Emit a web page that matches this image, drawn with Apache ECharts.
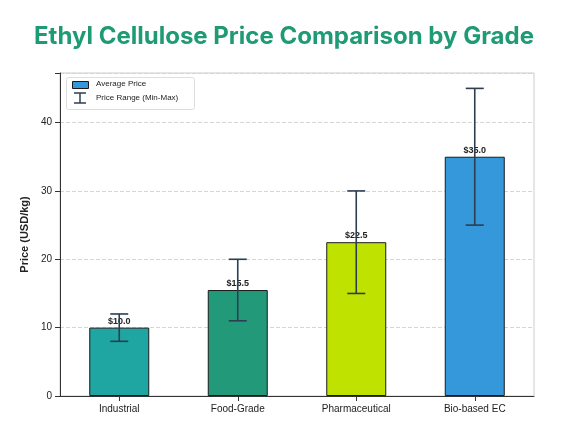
<!DOCTYPE html>
<html><head><meta charset="utf-8">
<script src="https://cdn.jsdelivr.net/npm/echarts@6/dist/echarts.min.js"></script>
<style>html,body{margin:0;padding:0;background:#fff}#c{width:568px;height:426px}</style>
</head><body><div id="c"></div>
<script>
const categories = ['Industrial','Food-Grade','Pharmaceutical','Bio-based EC'];
const avgPrice = [10.0, 15.5, 22.5, 35.0];
const minPrice = [8, 11, 15, 25];
const maxPrice = [12, 20, 30, 45];
const colors = ['#1fa5a2','#229a7a','#c0e200','#3498db'];
const yTicks = [0,10,20,30,40];

const chart = echarts.init(document.getElementById('c'));
chart.setOption({
  animation:false,
  title:{text:'Ethyl Cellulose Price Comparison by Grade',left:'center',top:20,
    textStyle:{fontFamily:'Inter, Roboto, sans-serif',fontSize:24,fontWeight:'bold',color:'#1e9a74'}},
  grid:{left:60,right:34,top:73,bottom:30,show:true,borderColor:'#cccccc',borderWidth:1},
  xAxis:{type:'category',data:categories,
    axisLine:{lineStyle:{color:'#333'}},axisTick:{show:true,alignWithLabel:true,lineStyle:{color:'#333'}},
    axisLabel:{color:'#222',fontSize:10,fontFamily:'Liberation Sans, Arial'}},
  yAxis:{type:'value',min:0,max:47.25,interval:10,
    name:'Price (USD/kg)',nameLocation:'middle',nameGap:22,
    nameTextStyle:{fontWeight:'bold',fontSize:11,color:'#222',fontFamily:'Liberation Sans, Arial'},
    axisLine:{show:true,lineStyle:{color:'#333'}},axisTick:{show:true,lineStyle:{color:'#333'}},
    axisLabel:{color:'#222',fontSize:10,fontFamily:'Liberation Sans, Arial',
      formatter:v=>yTicks.includes(v)?String(v):''},
    splitLine:{lineStyle:{type:'dashed',color:'#d5d5d5'}}},
  series:[
    {type:'bar',barWidth:60,
     data:avgPrice.map((v,i)=>({value:v,itemStyle:{color:colors[i]}})),
     itemStyle:{borderColor:'#1a1a1a',borderWidth:1},
     label:{show:true,position:'top',distance:2,formatter:p=>'$'+p.value.toFixed(1),
       fontWeight:'bold',fontSize:9,color:'#222',fontFamily:'Liberation Sans, Arial'},
     z:2},
    {type:'custom',z:5,
     data:categories.map((c,i)=>[i,minPrice[i],maxPrice[i]]),
     renderItem:(params,api)=>{
       const lo=api.coord([api.value(0),api.value(1)]);
       const hi=api.coord([api.value(0),api.value(2)]);
       const w=9, st={stroke:'#2c3e50',lineWidth:1.6};
       return {type:'group',children:[
         {type:'line',shape:{x1:lo[0],y1:lo[1],x2:hi[0],y2:hi[1]},style:st},
         {type:'line',shape:{x1:lo[0]-w,y1:lo[1],x2:lo[0]+w,y2:lo[1]},style:st},
         {type:'line',shape:{x1:hi[0]-w,y1:hi[1],x2:hi[0]+w,y2:hi[1]},style:st}]};
     }}
  ],
  graphic:[
    {type:'rect',left:66,top:77,shape:{width:128,height:32,r:2},style:{fill:'#fff',stroke:'#ddd'}},
    {type:'rect',left:72,top:81,shape:{width:16,height:7},style:{fill:'#3498db',stroke:'#1a1a1a',lineWidth:1}},
    {type:'text',left:96,top:80,style:{text:'Average Price',fontSize:8,fill:'#222',fontFamily:'Liberation Sans, Arial'}},
    {type:'line',shape:{x1:80,y1:93,x2:80,y2:103},style:{stroke:'#2c3e50',lineWidth:1.5}},
    {type:'line',shape:{x1:74,y1:93,x2:86,y2:93},style:{stroke:'#2c3e50',lineWidth:1.5}},
    {type:'line',shape:{x1:74,y1:103,x2:86,y2:103},style:{stroke:'#2c3e50',lineWidth:1.5}},
    {type:'text',left:96,top:94,style:{text:'Price Range (Min-Max)',fontSize:8,fill:'#222',fontFamily:'Liberation Sans, Arial'}}
  ]
});
</script></body></html>
